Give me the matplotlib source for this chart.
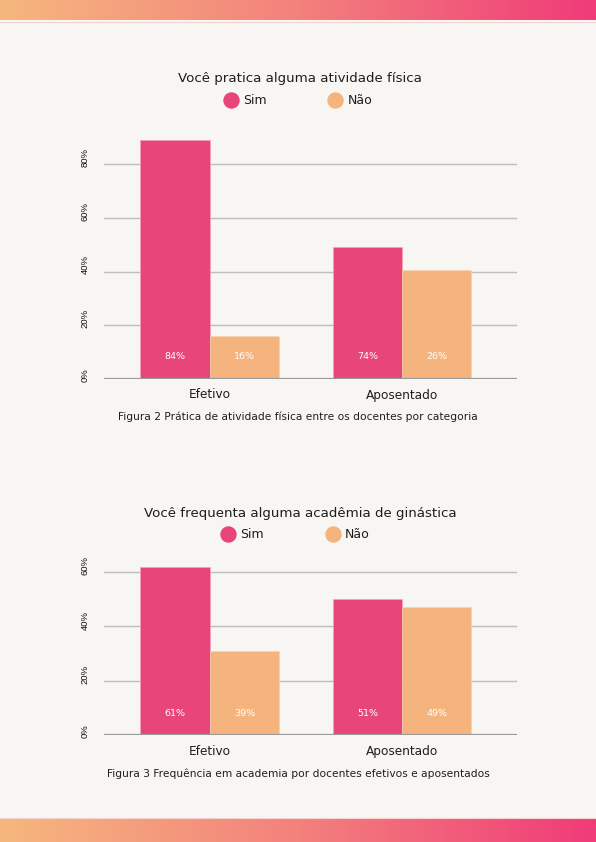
import numpy as np
import matplotlib
matplotlib.use("Agg")
import matplotlib.pyplot as plt
from matplotlib.lines import Line2D
from matplotlib.colors import LinearSegmentedColormap
import matplotlib.transforms as mtransforms

# ---------------- data ----------------
categories = ["Efetivo", "Aposentado"]
series_names = ["Sim", "Não"]

# chart 1: Você pratica alguma atividade física
c1_sim = [89, 49]
c1_nao = [16, 40.5]
c1_sim_labels = ["84%", "74%"]
c1_nao_labels = ["16%", "26%"]
c1_yticks = [0, 20, 40, 60, 80]
c1_title = "Você pratica alguma atividade física"
c1_caption = "Figura 2 Prática de atividade física entre os docentes por categoria"

# chart 2: Você frequenta alguma academia de ginástica
c2_sim = [62, 50]
c2_nao = [31, 47]
c2_sim_labels = ["61%", "51%"]
c2_nao_labels = ["39%", "49%"]
c2_yticks = [0, 20, 40, 60]
c2_title = "Você frequenta alguma acadêmia de ginástica"
c2_caption = "Figura 3 Frequência em academia por docentes efetivos e aposentados"

# ---------------- style ----------------
W, H = 596, 842
BG = "#F8F6F2"
PINK = "#E8457A"
PEACH = "#F5B47E"
GRID = "#BDBDBD"
BASE = "#9A9A9A"
TXT = "#1E1E1E"
FONT = "DejaVu Sans"

fig = plt.figure(figsize=(W / 100, H / 100), dpi=100)
fig.patch.set_facecolor(BG)


def fx(x):
    return x / W


def fy(y):
    return 1 - y / H


# gradient bands
grad = LinearSegmentedColormap.from_list("g", ["#F6B77E", "#F3817C", "#F03B78"])
g = np.linspace(0, 1, 256).reshape(1, -1)
for top, bot, line_y in [(0, 20.5, 21.5), (819, 842, 818)]:
    axg = fig.add_axes([0, fy(bot), 1, (bot - top) / H])
    axg.imshow(g, aspect="auto", cmap=grad, extent=[0, 1, 0, 1])
    axg.set_axis_off()
    fig.add_artist(Line2D([0, 1], [fy(line_y), fy(line_y)], transform=fig.transFigure,
                          color="#F6D3D3", lw=0.8))


def draw_chart(zero_y, top_y, px_per_pct, sim, nao, sim_lab, nao_lab, yticks,
               title, title_y, leg_y, leg_sim_x, leg_nao_x, cap, cap_y, cat_y):
    left, right = 104, 516.7
    ax = fig.add_axes([fx(left), fy(zero_y), fx(right) - fx(left), (zero_y - top_y) / H])
    ax.set_facecolor("none")
    ymax = (zero_y - top_y) / px_per_pct
    ax.set_ylim(0, ymax)
    # x scale: category spacing 192.3 px, first group center at 209.7 px
    sp = 192.3
    ax.set_xlim(-(209.7 - left) / sp, 1 + (right - 402) / sp)
    x = np.arange(len(categories))
    bw = 69.3 / sp
    ax.bar(x - bw / 2, sim, bw, color=PINK, zorder=3, edgecolor="#F7A5BF", linewidth=0.4)
    ax.bar(x + bw / 2, nao, bw, color=PEACH, zorder=3, edgecolor="#F9D2B2", linewidth=0.4)
    for t in yticks:
        if t == 0:
            continue
        ax.axhline(t, color=GRID, lw=1.0, zorder=1)
    ax.axhline(0, color=BASE, lw=1.6, zorder=4)
    for s in ax.spines.values():
        s.set_visible(False)
    ax.set_xticks([])
    ax.set_yticks([])
    # y tick labels (rotated)
    trans = mtransforms.blended_transform_factory(ax.transAxes, ax.transData)
    trans = trans + mtransforms.ScaledTranslation(0, -3 / 100, fig.dpi_scale_trans)
    for t in yticks:
        ax.text((85.3 - left) / (right - left), t, f"{t}%", transform=trans, rotation=90,
                ha="center", va="bottom", fontsize=6.8, family="Liberation Sans", color="#111111")
    # value labels
    ypos = 8.2 * 2.68 / px_per_pct
    for i in range(len(categories)):
        ax.text(x[i] - bw / 2, ypos, sim_lab[i], ha="center", va="center",
                color="white", fontsize=6.8, family=FONT, zorder=5)
        ax.text(x[i] + bw / 2, ypos, nao_lab[i], ha="center", va="center",
                color="white", fontsize=6.8, family=FONT, zorder=5)
    # category labels
    for i, c in enumerate(categories):
        fig.text(fx(209.7 + i * sp), fy(cat_y), c, ha="center", va="center",
                 fontsize=8.7, family=FONT, color=TXT)
    # title
    fig.text(fx(300), fy(title_y), title, ha="center", va="center", fontsize=9.6,
             family=FONT, color=TXT)
    # legend
    for cx, col, name in [(leg_sim_x, PINK, series_names[0]), (leg_nao_x, PEACH, series_names[1])]:
        fig.add_artist(Line2D([fx(cx)], [fy(leg_y)], transform=fig.transFigure, marker="o",
                              markersize=10.8, color=col, linestyle="none"))
        fig.text(fx(cx + 12), fy(leg_y), name, ha="left", va="center", fontsize=9,
                 family=FONT, color=TXT)
    # caption
    fig.text(fx(298), fy(cap_y), cap, ha="center", va="center", fontsize=7.7,
             family=FONT, color=TXT)


draw_chart(378.7, 130, 2.68, c1_sim, c1_nao, c1_sim_labels, c1_nao_labels, c1_yticks,
           c1_title, 78.3, 100, 230.7, 335.3, c1_caption, 417, 395)
draw_chart(735.3, 555, 2.72, c2_sim, c2_nao, c2_sim_labels, c2_nao_labels, c2_yticks,
           c2_title, 513.3, 534.3, 227.7, 332.7, c2_caption, 773.3, 751.7)

fig.savefig("out.png", dpi=100, facecolor=BG)
